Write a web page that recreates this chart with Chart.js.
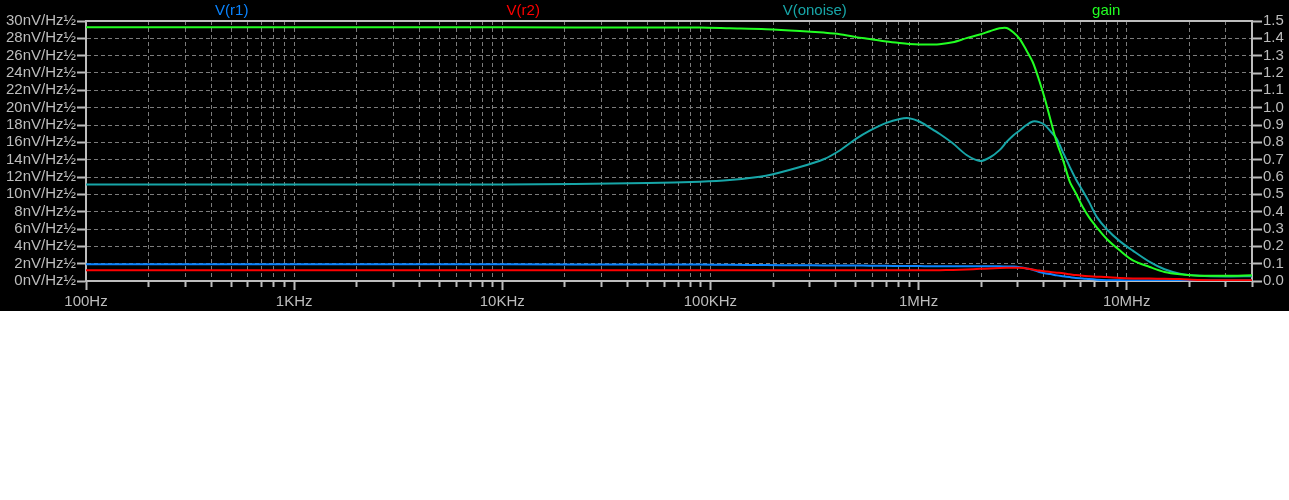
<!DOCTYPE html>
<html><head><meta charset="utf-8">
<script src="https://cdn.jsdelivr.net/npm/chart.js@4/dist/chart.umd.min.js"></script>
<style>
html,body{margin:0;padding:0;background:#fff;}
#wrap{width:1289px;height:311px;background:#000;}
canvas{display:block;}
</style></head><body>
<div id="wrap"><canvas id="c" width="1289" height="311"></canvas></div>
<script>
// ---- data ----
const freqHz = [100, 1e3, 1e4, 5e4, 8.9e4, 1.24e5, 1.85e5, 2.69e5, 3.5e5, 4.18e5,
  5e5, 5.83e5, 7e5, 8.12e5, 9e5, 1.01e6, 1.13e6, 1.26e6, 1.46e6, 1.7e6,
  1.97e6, 2.2e6, 2.45e6, 2.65e6, 2.85e6, 3.06e6, 3.3e6, 3.54e6, 3.8e6, 4.04e6,
  4.3e6, 4.61e6, 4.95e6, 5.32e6, 5.7e6, 6.15e6, 6.6e6, 7.18e6, 8.0e6, 9.25e6,
  1.07e7, 1.29e7, 1.52e7, 1.8e7, 2.24e7, 3.0e7, 4.0e7];
const vR1 = [1.92, 1.92, 1.92, 1.91, 1.89, 1.87, 1.84, 1.82, 1.80, 1.79,
  1.78, 1.77, 1.75, 1.74, 1.73, 1.72, 1.71, 1.71, 1.70, 1.70,
  1.70, 1.69, 1.69, 1.68, 1.66, 1.60, 1.45, 1.30, 1.04, 0.90,
  0.80, 0.65, 0.55, 0.45, 0.35, 0.30, 0.22, 0.15, 0.10, 0.08,
  0.06, 0.05, 0.05, 0.05, 0.05, 0.05, 0.05];
const vR2 = [1.23, 1.23, 1.23, 1.23, 1.23, 1.23, 1.23, 1.23, 1.23, 1.23,
  1.23, 1.23, 1.23, 1.23, 1.23, 1.23, 1.23, 1.25, 1.28, 1.33,
  1.40, 1.45, 1.50, 1.53, 1.54, 1.52, 1.45, 1.33, 1.20, 1.12,
  1.03, 0.96, 0.89, 0.78, 0.68, 0.60, 0.55, 0.50, 0.45, 0.35,
  0.30, 0.28, 0.26, 0.22, 0.12, 0.08, 0.08];
const vOnoise = [11.14, 11.14, 11.14, 11.3, 11.45, 11.65, 12.15, 13.15, 14.05, 15.06,
  16.4, 17.35, 18.25, 18.7, 18.78, 18.4, 17.7, 16.99, 15.89, 14.54,
  13.85, 14.25, 15.1, 16.05, 16.8, 17.37, 18.0, 18.4, 18.33, 18.0,
  17.3, 16.41, 14.8, 13.2, 11.75, 10.4, 9.1, 7.4, 6.0, 4.6,
  3.5, 2.2, 1.35, 0.85, 0.6, 0.52, 0.55];
const gain = [1.464, 1.464, 1.464, 1.462, 1.462, 1.458, 1.453, 1.443, 1.433, 1.424,
  1.407, 1.396, 1.382, 1.373, 1.368, 1.365, 1.365, 1.366, 1.377, 1.401,
  1.422, 1.441, 1.458, 1.460, 1.435, 1.397, 1.33, 1.262, 1.157, 1.053,
  0.932, 0.801, 0.696, 0.575, 0.506, 0.427, 0.367, 0.31, 0.244, 0.177,
  0.119, 0.081, 0.052, 0.039, 0.031, 0.030, 0.033];
const seriesNames = ['V(r1)', 'V(r2)', 'V(onoise)', 'gain'];
const xTickValues = [100,200,300,400,500,600,700,800,900,
  1e3,2e3,3e3,4e3,5e3,6e3,7e3,8e3,9e3,
  1e4,2e4,3e4,4e4,5e4,6e4,7e4,8e4,9e4,
  1e5,2e5,3e5,4e5,5e5,6e5,7e5,8e5,9e5,
  1e6,2e6,3e6,4e6,5e6,6e6,7e6,8e6,9e6,
  1e7,2e7,3e7,4e7];
const xDecades = [100, 1e3, 1e4, 1e5, 1e6, 1e7];
const xDecadeLabels = ['100Hz', '1KHz', '10KHz', '100KHz', '1MHz', '10MHz'];
const leftMin = 0, leftMax = 30, leftStep = 2, leftUnit = 'nV/Hz½';
const rightMin = 0, rightMax = 1.5, rightStep = 0.1;

// ---- styles ----
const axisColor = '#bdbdbd';
const gridColor = '#7c7c7c';
const textColor = '#bdbdbd';
const FONT = {family: '"Liberation Sans", Arial, sans-serif', size: 15};
const colors = ['#0a84ff', '#ff0000', '#17a6a8', '#22ff22'];

const pts = arr => freqHz.map((f, i) => ({x: f, y: arr[i]}));
function decadeIndex(v) {
  for (let i = 0; i < xDecades.length; i++) if (Math.abs(v / xDecades[i] - 1) < 1e-9) return i;
  return -1;
}

const topLabels = {
  id: 'topLabels',
  beforeDatasetsDraw(chart) {
    const {ctx, chartArea: a} = chart;
    ctx.save();
    ctx.strokeStyle = axisColor; ctx.lineWidth = 2;
    ctx.beginPath(); ctx.moveTo(a.left, a.top); ctx.lineTo(a.right, a.top); ctx.stroke();
    ctx.restore();
  },
  afterDraw(chart) {
    const {ctx, chartArea: a} = chart;
    ctx.save();
    ctx.font = FONT.size + 'px ' + FONT.family;
    ctx.textAlign = 'center'; ctx.textBaseline = 'middle';
    const n = chart.data.datasets.length;
    chart.data.datasets.forEach((ds, i) => {
      ctx.fillStyle = ds.borderColor;
      ctx.fillText(ds.label, a.left + (i + 0.5) * (a.right - a.left) / n, 11);
    });
    ctx.restore();
  }
};

const mk = (i, arr, axis, order) => ({
  label: seriesNames[i], data: pts(arr), yAxisID: axis, order: order,
  borderColor: colors[i], backgroundColor: colors[i], borderWidth: 2,
  pointRadius: 0, tension: 0.3, fill: false
});

new Chart(document.getElementById('c'), {
  type: 'line',
  data: {datasets: [mk(0, vR1, 'y', 3), mk(1, vR2, 'y', 2), mk(2, vOnoise, 'y', 1), mk(3, gain, 'y1', 0)]},
  options: {
    responsive: false, animation: false, devicePixelRatio: 1,
    layout: {padding: {top: 21, left: 0, right: 0, bottom: 0}},
    plugins: {legend: {display: false}, tooltip: {enabled: false}},
    scales: {
      x: {
        type: 'logarithmic', min: 100, max: 4e7,
        afterBuildTicks: s => { s.ticks = xTickValues.map(v => ({value: v})); },
        afterFit: s => { s.height = 30; },
        ticks: {autoSkip: false, maxRotation: 0, minRotation: 0, color: textColor, font: FONT, padding: 3,
          callback: v => { const k = decadeIndex(v); return k >= 0 ? xDecadeLabels[k] : ''; }},
        grid: {
          color: c => (c.tick && (c.tick.value === 100 || c.tick.value === 4e7)) ? 'rgba(0,0,0,0)' : gridColor,
          lineWidth: 1, tickLength: 9, tickColor: axisColor, tickWidth: 2,
          tickBorderDash: c => (c.tick && decadeIndex(c.tick.value) >= 0) ? [] : [5, 100]
        },
        border: {color: axisColor, width: 2, dash: [4, 3]}
      },
      y: {
        position: 'left', min: leftMin, max: leftMax,
        afterFit: s => { s.width = 86; },
        ticks: {autoSkip: false, stepSize: leftStep, color: textColor, font: FONT, padding: 1, callback: v => v + leftUnit},
        grid: {
          color: c => (c.tick && (c.tick.value === leftMin || c.tick.value === leftMax)) ? 'rgba(0,0,0,0)' : gridColor,
          lineWidth: 1, tickLength: 9, tickColor: axisColor, tickWidth: 2
        },
        border: {color: axisColor, width: 2, dash: [4, 3]}
      },
      y1: {
        position: 'right', min: rightMin, max: rightMax,
        afterFit: s => { s.width = 37; },
        ticks: {autoSkip: false, stepSize: rightStep, color: textColor, font: FONT, padding: 1, callback: v => Number(v).toFixed(1)},
        grid: {drawOnChartArea: false, tickLength: 10, tickColor: axisColor, tickWidth: 2},
        border: {color: axisColor, width: 2}
      }
    }
  },
  plugins: [topLabels]
});
</script>
</body></html>
